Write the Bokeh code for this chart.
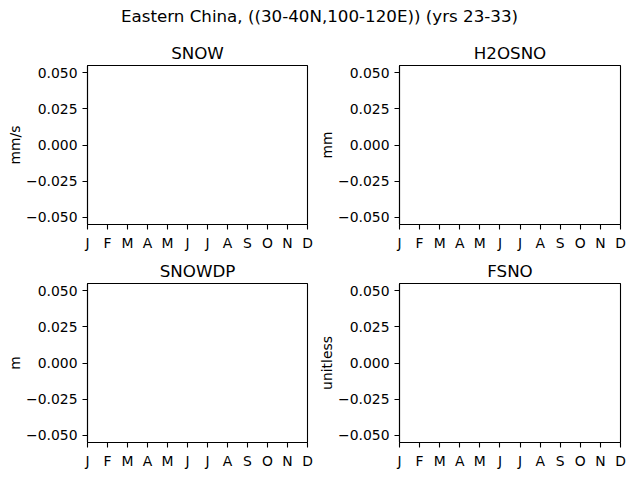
from bokeh.plotting import figure
from bokeh.layouts import column, row
from bokeh.models import Range1d, FixedTicker
from bokeh.embed import file_html
from bokeh.resources import INLINE

NAN = float("nan")

suptitle = "Eastern China, ((30-40N,100-120E)) (yrs 23-33)"
months = [1, 2, 3, 4, 5, 6, 7, 8, 9, 10, 11, 12]
month_labels = ["J", "F", "M", "A", "M", "J", "J", "A", "S", "O", "N", "D"]
panel_titles = ["SNOW", "H2OSNO", "SNOWDP", "FSNO"]
panel_units = ["mm/s", "mm", "m", "unitless"]

# all series are empty (no valid values) in the reference
snow_vals = [NAN, NAN, NAN, NAN, NAN, NAN, NAN, NAN, NAN, NAN, NAN, NAN]
h2osno_vals = [NAN, NAN, NAN, NAN, NAN, NAN, NAN, NAN, NAN, NAN, NAN, NAN]
snowdp_vals = [NAN, NAN, NAN, NAN, NAN, NAN, NAN, NAN, NAN, NAN, NAN, NAN]
fsno_vals = [NAN, NAN, NAN, NAN, NAN, NAN, NAN, NAN, NAN, NAN, NAN, NAN]
series = [snow_vals, h2osno_vals, snowdp_vals, fsno_vals]

y_ticks = [-0.05, -0.025, 0.0, 0.025, 0.05]
y_tick_labels = ["\u22120.050", "\u22120.025", "0.000", "0.025", "0.050"]
y_limits = (-0.055, 0.055)

FONT = "DejaVu Sans"
TICK_FS = "13.9px"
TITLE_FS = "16.7px"


def make_panel(idx):
    r, c = divmod(idx, 2)
    if c == 0:
        width, left, right = 316, 87, 9
    else:
        width, left, right = 322, 83, 18
    height = 218
    p = figure(
        width=width,
        height=height,
        output_backend="svg",
        toolbar_location=None,
        x_range=Range1d(months[0], months[-1]),
        y_range=Range1d(*y_limits),
        min_border_left=left,
        min_border_right=right,
        min_border_top=28,
        min_border_bottom=31,
        title=panel_titles[idx],
    )
    p.line(months, series[idx], line_color="#1f77b4", line_width=1.5)
    p.title.text_font = FONT
    p.title.text_font_size = TITLE_FS
    p.title.text_font_style = "normal"
    p.title.text_color = "black"
    p.title.align = "center"
    p.title.standoff = 5
    p.xgrid.visible = False
    p.ygrid.visible = False
    p.outline_line_color = "black"
    p.outline_line_width = 1.1
    p.background_fill_color = "white"
    p.border_fill_color = "white"

    p.xaxis.ticker = FixedTicker(ticks=months)
    p.xaxis.major_label_overrides = {m: lab for m, lab in zip(months, month_labels)}
    p.yaxis.ticker = FixedTicker(ticks=y_ticks)
    p.yaxis.major_label_overrides = {t: lab for t, lab in zip(y_ticks, y_tick_labels)}
    p.yaxis.axis_label = panel_units[idx]

    for ax in (p.xaxis[0], p.yaxis[0]):
        ax.axis_line_color = "black"
        ax.axis_line_width = 1.1
        ax.major_tick_line_color = "black"
        ax.major_tick_line_width = 1.1
        ax.major_tick_in = 0
        ax.major_tick_out = 5
        ax.minor_tick_line_color = None
        ax.major_label_text_font = FONT
        ax.major_label_text_font_size = TICK_FS
        ax.major_label_text_color = "black"
        ax.axis_label_text_font = FONT
        ax.axis_label_text_font_size = TICK_FS
        ax.axis_label_text_font_style = "normal"
        ax.axis_label_text_color = "black"
    p.xaxis.major_label_standoff = 5
    p.yaxis.major_label_standoff = 5
    p.yaxis.axis_label_standoff = 0
    return p


panels = [make_panel(i) for i in range(4)]

head = figure(
    width=638,
    height=37,
    output_backend="svg",
    toolbar_location=None,
    x_axis_location=None,
    y_axis_location=None,
    min_border_left=0,
    min_border_right=0,
    min_border_bottom=0,
    min_border_top=25,
    title=suptitle,
)
head.outline_line_color = None
head.xgrid.visible = False
head.ygrid.visible = False
head.title.text_font = FONT
head.title.text_font_size = TITLE_FS
head.title.text_font_style = "normal"
head.title.text_color = "black"
head.title.align = "center"
head.title.standoff = 0
head.border_fill_color = "white"
head.background_fill_color = "white"

layout = column(head, row(panels[0], panels[1]), row(panels[2], panels[3]))

open("out.html", "w").write(file_html(layout, INLINE))
